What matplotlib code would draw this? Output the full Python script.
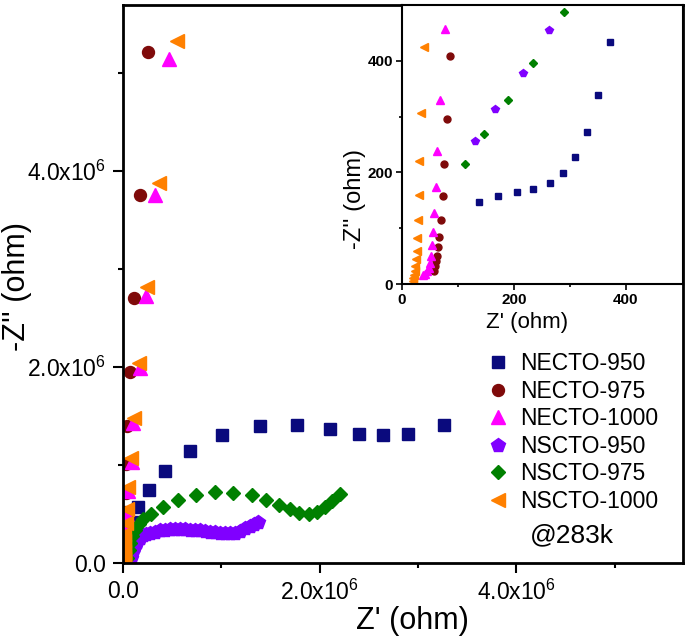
import matplotlib
matplotlib.use('Agg')
import matplotlib.pyplot as plt
from matplotlib.ticker import FixedLocator, FuncFormatter

plt.rcParams['font.family'] = ['Liberation Sans', 'DejaVu Sans']
plt.rcParams['mathtext.fontset'] = 'custom'
plt.rcParams['mathtext.rm'] = 'Liberation Sans'
plt.rcParams['mathtext.it'] = 'Liberation Sans:italic'

# Main plot data (ohm)
necto950_re = [66e3, 102e3, 156e3, 260e3, 427e3, 679e3, 1.011e6, 1.397e6, 1.768e6,
               2.104e6, 2.395e6, 2.643e6, 2.898e6, 3.26e6]
necto950_im = [306e3, 423e3, 566e3, 740e3, 939e3, 1.14e6, 1.309e6, 1.395e6, 1.405e6,
               1.370e6, 1.319e6, 1.303e6, 1.319e6, 1.405e6]

necto975_re = [7e3, 10e3, 14e3, 20e3, 27e3, 31e3, 41e3, 71e3, 115e3, 173e3, 251e3]
necto975_im = [90e3, 200e3, 350e3, 520e3, 717e3, 1.007e6, 1.398e6, 1.952e6, 2.707e6,
               3.755e6, 5.207e6]

necto1000_re = [10e3, 15e3, 22e3, 31e3, 44e3, 54e3, 88e3, 105e3, 176e3, 231e3, 326e3, 468e3]
necto1000_im = [50e3, 130e3, 250e3, 370e3, 490e3, 735e3, 1.034e6, 1.425e6, 1.993e6,
                2.727e6, 3.748e6, 5.14e6]

nscto950_re = [81e3, 102e3, 122e3, 143e3, 173e3, 204e3, 234e3, 275e3, 326e3, 377e3,
               428e3, 478e3, 529e3, 580e3, 631e3, 682e3, 733e3, 784e3, 835e3, 886e3,
               936e3, 987e3, 1.038e6, 1.089e6, 1.140e6, 1.191e6, 1.242e6, 1.293e6,
               1.333e6, 1.374e6]
nscto950_im = [51e3, 122e3, 173e3, 214e3, 255e3, 281e3, 296e3, 311e3, 321e3, 332e3,
               337e3, 342e3, 342e3, 342e3, 342e3, 337e3, 337e3, 332e3, 327e3, 321e3,
               316e3, 311e3, 306e3, 306e3, 311e3, 327e3, 352e3, 378e3, 398e3, 418e3]

nscto975_re = [41e3, 56e3, 71e3, 92e3, 122e3, 158e3, 204e3, 285e3, 407e3, 560e3, 743e3,
               936e3, 1.12e6, 1.308e6, 1.455e6, 1.588e6, 1.70e6, 1.791e6, 1.893e6,
               1.975e6, 2.056e6, 2.127e6, 2.208e6]
nscto975_im = [51e3, 133e3, 204e3, 276e3, 337e3, 398e3, 449e3, 500e3, 571e3, 643e3, 694e3,
               719e3, 714e3, 694e3, 638e3, 592e3, 551e3, 510e3, 500e3, 515e3, 566e3,
               628e3, 704e3]

nscto1000_re = [6e3, 7e3, 8e3, 9e3, 10e3, 11e3, 12e3, 14e3, 31e3, 38e3, 54e3, 81e3,
                115e3, 166e3, 241e3, 369e3, 547e3]
nscto1000_im = [8e3, 20e3, 40e3, 70e3, 110e3, 160e3, 220e3, 300e3, 408e3, 548e3, 779e3,
                1.075e6, 1.483e6, 2.044e6, 2.819e6, 3.874e6, 5.32e6]

# Inset data (ohm)
in_necto950_re = [138, 171, 206, 234, 264, 288, 310, 331, 350, 372]
in_necto950_im = [147, 158, 164, 171, 181, 199, 227, 272, 338, 433]

in_necto975_re = [57, 59, 61, 63, 64, 66, 69, 73, 76, 81, 86]
in_necto975_im = [23, 32, 41, 51, 66, 85, 115, 157, 215, 296, 408]

in_necto1000_re = [38, 42, 45, 48, 50, 52, 54, 55, 57, 60, 63, 68, 77]
in_necto1000_im = [17, 18, 23, 29, 38, 51, 69, 94, 127, 174, 239, 330, 457]

in_nscto950_re = [130, 167, 217, 263]
in_nscto950_im = [256, 314, 379, 456]

in_nscto975_re = [112, 146, 190, 235, 289]
in_nscto975_im = [215, 269, 329, 396, 487]

in_nscto1000_re = [19, 20, 21.5, 23, 24, 25, 26, 27.5, 29, 30, 31, 34, 40]
in_nscto1000_im = [6, 11, 17, 24, 33, 45, 60, 83, 114, 159, 220, 306, 424]

labels = ['NECTO-950', 'NECTO-975', 'NECTO-1000', 'NSCTO-950', 'NSCTO-975', 'NSCTO-1000']
colors = ['#0a0a7d', '#7f0a0a', '#ff00ff', '#8000ff', '#008000', '#ff8000']
markers = ['s', 'o', '^', 'p', 'D', '<']
main_ms = [8, 8.6, 9.4, 10, 7, 9.4]
inset_ms = [5, 5, 5.8, 6, 4.3, 5.8]

main_series = [(necto950_re, necto950_im), (necto975_re, necto975_im),
               (necto1000_re, necto1000_im), (nscto950_re, nscto950_im),
               (nscto975_re, nscto975_im), (nscto1000_re, nscto1000_im)]
inset_series = [(in_necto950_re, in_necto950_im), (in_necto975_re, in_necto975_im),
                (in_necto1000_re, in_necto1000_im), (in_nscto950_re, in_nscto950_im),
                (in_nscto975_re, in_nscto975_im), (in_nscto1000_re, in_nscto1000_im)]

W, H = 685, 643
fig = plt.figure(figsize=(W / 100, H / 100), dpi=100)

# main axes
ax = fig.add_axes([123 / W, 1 - 563 / H, (682.7 - 123) / W, (563 - 5) / H])
for (x, y), lab, c, m, ms in zip(main_series, labels, colors, markers, main_ms):
    ax.plot(x, y, ls='none', marker=m, ms=ms, color=c, mec=c, label=lab)

ax.set_xlim(0, 5.69e6)
ax.set_ylim(0, 5.69e6)


def sci_fmt(v, pos):
    if v == 0:
        return '0.0'
    return '%.1fx10$^6$' % (v / 1e6)


for axis in (ax.xaxis, ax.yaxis):
    axis.set_major_locator(FixedLocator([0, 2e6, 4e6]))
    axis.set_minor_locator(FixedLocator([1e6, 3e6, 5e6]))
    axis.set_major_formatter(FuncFormatter(sci_fmt))
ax.tick_params(which='major', direction='out', length=7, width=1.5, labelsize=16.5, pad=5)
ax.tick_params(which='minor', direction='out', length=3.5, width=1.5)
ax.tick_params(top=False, right=False, which='both')
for s in ax.spines.values():
    s.set_linewidth(2)

ax.set_xlabel("Z' (ohm)", fontsize=22)
ax.xaxis.set_label_coords(0.517, -0.077)
ax.set_ylabel("-Z'' (ohm)", fontsize=22)
ax.yaxis.set_label_coords(-0.162, 0.495)

leg = ax.legend(loc='upper left', bbox_to_anchor=(486 / W, 1 - 352 / H),
                bbox_transform=fig.transFigure, frameon=False, fontsize=16.5,
                handlelength=1.05, handletextpad=0.45, labelspacing=0.2,
                borderpad=0, borderaxespad=0, numpoints=1)
fig.text(572 / W, 1 - 535 / H, '@283k', fontsize=19, ha='center', va='center')

# inset axes
ax_in = fig.add_axes([402 / W, 1 - 284 / H, (682.7 - 402) / W, (284 - 5) / H])
for (x, y), c, m, ms in zip(inset_series, colors, markers, inset_ms):
    ax_in.plot(x, y, ls='none', marker=m, ms=ms, color=c, mec=c)
ax_in.set_xlim(0, 502)
ax_in.set_ylim(0, 500)
for axis in (ax_in.xaxis, ax_in.yaxis):
    axis.set_major_locator(FixedLocator([0, 200, 400]))
    axis.set_minor_locator(FixedLocator([100, 300]))
ax_in.tick_params(which='major', direction='out', length=4, width=1.2, labelsize=11, pad=2.5)
ax_in.tick_params(which='minor', direction='out', length=2.5, width=1.2)
for lab in ax_in.get_xticklabels() + ax_in.get_yticklabels():
    lab.set_fontweight('bold')
for s in ax_in.spines.values():
    s.set_linewidth(1.5)
ax_in.set_xlabel("Z' (ohm)", fontsize=16)
ax_in.xaxis.set_label_coords(0.447, -0.10)
ax_in.set_ylabel("-Z'' (ohm)", fontsize=17)
ax_in.yaxis.set_label_coords(-0.13, 0.303)

fig.savefig('out.png', dpi=100)
